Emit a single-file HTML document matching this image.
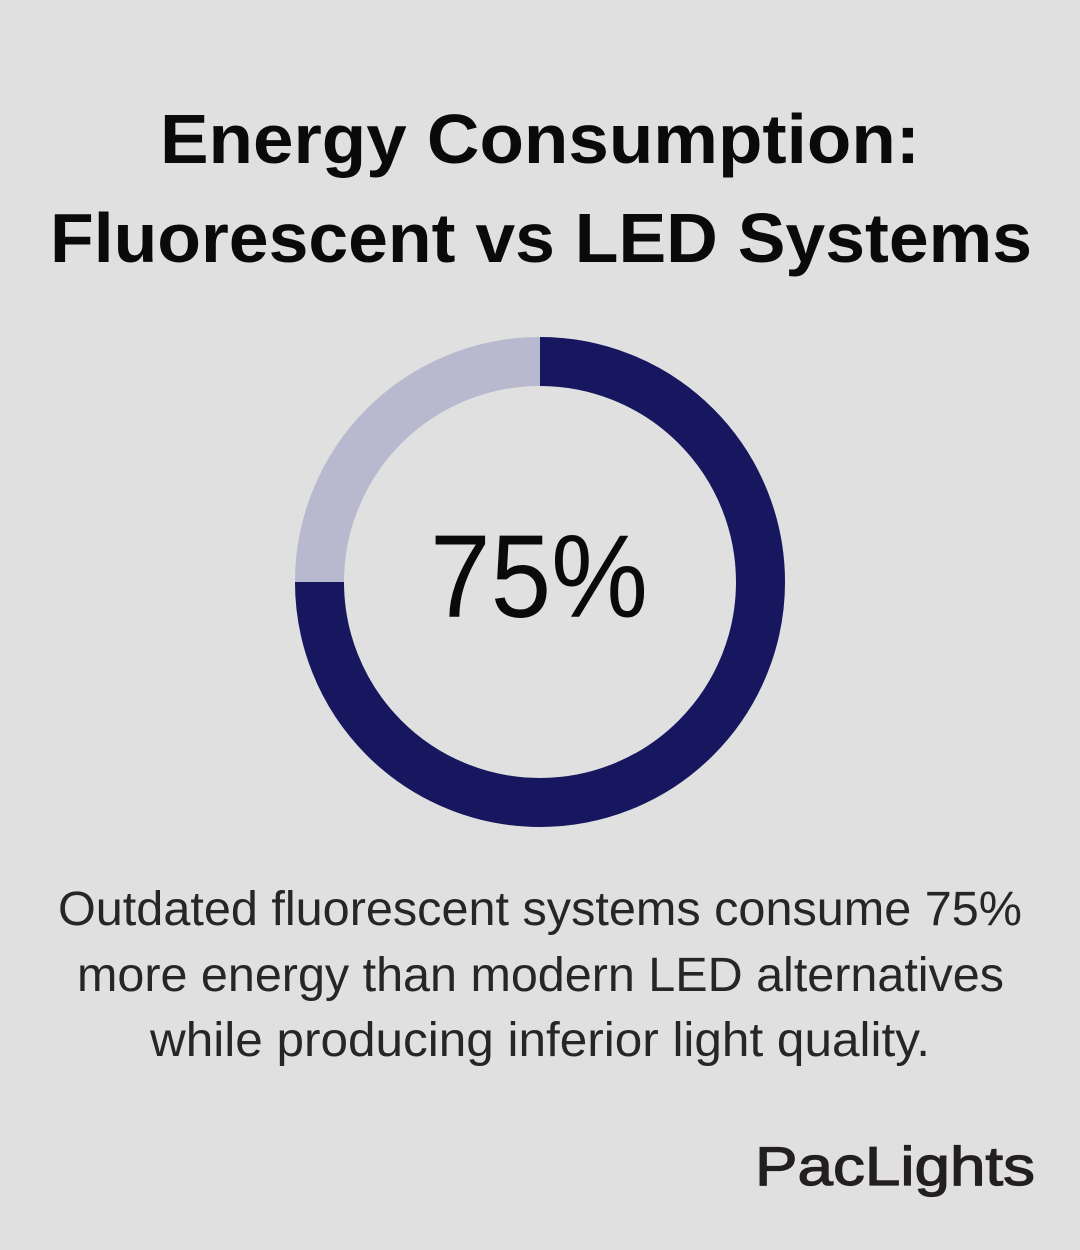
<!DOCTYPE html>
<html><head><style>html,body{margin:0;padding:0;background:#dfe0df;}</style></head>
<body>
<svg width="1080" height="1250" viewBox="0 0 1080 1250" xmlns="http://www.w3.org/2000/svg" style="display:block">
<rect width="1080" height="1250" fill="#dfe0df"/>
<g font-family="Liberation Sans, sans-serif" text-anchor="start">
<text x="160" y="163" font-size="70" font-weight="bold" fill="#0a0a0a" textLength="760" lengthAdjust="spacingAndGlyphs">Energy Consumption:</text>
<text x="50" y="262" font-size="70" font-weight="bold" fill="#0a0a0a" textLength="982" lengthAdjust="spacingAndGlyphs">Fluorescent vs LED Systems</text>
</g>
<circle cx="540" cy="582" r="220.5" fill="none" stroke="#b8b9cf" stroke-width="49"/>
<path d="M540 361.5 A220.5 220.5 0 1 1 319.5 582" fill="none" stroke="#16175e" stroke-width="49"/>
<text x="430" y="617" font-family="Liberation Sans, sans-serif" font-size="118" fill="#0a0a0a" textLength="218" lengthAdjust="spacingAndGlyphs">75%</text>
<g font-family="Liberation Sans, sans-serif" font-size="48" fill="#262626" font-weight="300">
<text x="58" y="925" textLength="964" lengthAdjust="spacingAndGlyphs">Outdated fluorescent systems consume 75%</text>
<text x="77" y="991" textLength="927" lengthAdjust="spacingAndGlyphs">more energy than modern LED alternatives</text>
<text x="150" y="1056" textLength="780" lengthAdjust="spacingAndGlyphs">while producing inferior light quality.</text>
</g>
<text x="755" y="1185" font-family="Liberation Sans, sans-serif" font-size="55" fill="#231f20" stroke="#231f20" stroke-width="1.2" textLength="280" lengthAdjust="spacingAndGlyphs">PacLights</text>
</svg>
</body></html>
